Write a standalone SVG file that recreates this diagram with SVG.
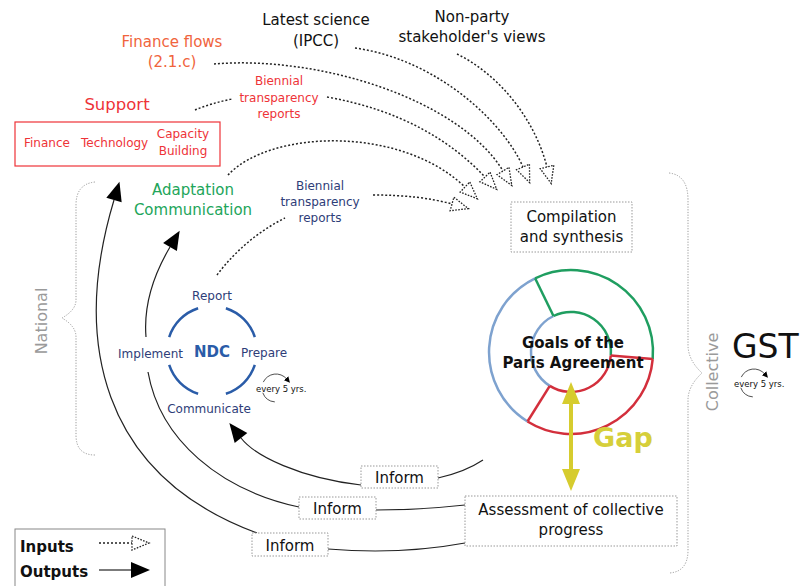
<svg xmlns="http://www.w3.org/2000/svg" width="805" height="586" viewBox="0 0 805 586">
<defs>
<style>
text{font-family:"DejaVu Sans",Verdana,sans-serif}
.in{fill:none;stroke:#222;stroke-width:1.5;stroke-dasharray:2 2}
.out{fill:none;stroke:#222;stroke-width:1.2}
.box{fill:#fff;stroke:#999;stroke-width:1;stroke-dasharray:1.5 1.5}
.brace{fill:none;stroke:#999;stroke-width:1;stroke-dasharray:1.2 1.5}
.navy{fill:#2e3d78}
.red{fill:#ee3338}
.blk{fill:#111}
.c{text-anchor:middle}
.g{stroke:#1f9e60}
.r{stroke:#d32f3c}
.b{stroke:#7ea2cf}
.ring path{fill:none;stroke-width:2.5}
</style>
<marker id="op" viewBox="-2 -2 22 18" refX="0" refY="7" markerWidth="22" markerHeight="18" markerUnits="userSpaceOnUse" orient="auto"><path d="M0,0 L17,7 L0,14 Z" fill="#fff" stroke="#222" stroke-width="1.3" stroke-dasharray="1.6 1.4"/></marker>
<marker id="fl" viewBox="-1 -1 21 18" refX="0" refY="8" markerWidth="21" markerHeight="18" markerUnits="userSpaceOnUse" orient="auto"><path d="M0,0 L19,8 L0,16 Z" fill="#000"/></marker>
<marker id="sm" viewBox="0 0 6 6" refX="1" refY="3" markerWidth="6" markerHeight="6" markerUnits="userSpaceOnUse" orient="auto"><path d="M0,0 L6,3 L0,6 Z" fill="#000"/></marker>
</defs>

<g id="braces">
<path class="brace" d="M95,182 Q76,184 76,205 L76,300 Q76,310 62,318 Q76,326 76,337 L76,435 Q76,455 95,455"/>
<path class="brace" d="M669,173 Q688,175 688,200 L688,345 Q688,360 702,373 Q688,386 688,400 L688,550 Q688,572 669,573"/>
<text x="47" y="321" transform="rotate(-90 47 321)" class="c" font-size="16" fill="#9a9a9a">National</text>
<text x="718" y="372" transform="rotate(-90 718 372)" class="c" font-size="16" fill="#9a9a9a">Collective</text>
</g>

<g id="connectors">
<path class="in" d="M355,48 C440,60 505,125 523,167" marker-end="url(#op)"/>
<path class="in" d="M457,54 C500,75 535,120 547,167" marker-end="url(#op)"/>
<path class="in" d="M214,64 C320,55 460,100 503,171" marker-end="url(#op)"/>
<path class="in" d="M195,110 Q212,103 232,99"/>
<path class="in" d="M327,97 C400,110 450,140 485,177" marker-end="url(#op)"/>
<path class="in" d="M228,175 C270,130 400,125 465,187" marker-end="url(#op)"/>
<path class="in" d="M217,275 Q245,238 285,218"/>
<path class="in" d="M373,195 Q420,195 452,204" marker-end="url(#op)"/>
<path class="out" d="M257,533 C100,475 72,340 114,200" marker-end="url(#fl)"/>
<path class="out" d="M299,507 C220,490 160,440 148,372"/>
<path class="out" d="M146,337 C143,300 157,269 170,247" marker-end="url(#fl)"/>
<path class="out" d="M361,485 C300,478 255,456 241,438" marker-end="url(#fl)"/>
<path class="out" d="M438,478 Q465,472 483,460"/>
<path class="out" d="M376,510 Q420,510 465,505"/>
<path class="out" d="M328,549 Q400,555 465,543"/>
</g>

<g id="latest-science">
<text x="316" y="25" class="c blk" font-size="15">Latest science</text>
<text x="316" y="46" class="c blk" font-size="15">(IPCC)</text>
</g>
<g id="non-party">
<text x="472" y="22" class="c blk" font-size="15">Non-party</text>
<text x="472" y="42" class="c blk" font-size="15">stakeholder's views</text>
</g>
<g id="finance-flows">
<text x="172" y="47" class="c" font-size="15" fill="#f0643c">Finance flows</text>
<text x="172" y="67" class="c" font-size="15" fill="#f0643c">(2.1.c)</text>
</g>
<g id="biennial-red">
<text x="279" y="85" class="c red" font-size="12">Biennial</text>
<text x="279" y="102" class="c red" font-size="12">transparency</text>
<text x="279" y="118" class="c red" font-size="12">reports</text>
</g>
<g id="support">
<text x="117" y="110" class="c red" font-size="16.5">Support</text>
<rect x="15" y="122" width="205" height="44" fill="none" stroke="#ee3338" stroke-width="1.2"/>
<text x="24" y="147" class="red" font-size="12">Finance</text>
<text x="81" y="147" class="red" font-size="12">Technology</text>
<text x="183" y="138" class="c red" font-size="12">Capacity</text>
<text x="183" y="155" class="c red" font-size="12">Building</text>
</g>
<g id="adaptation">
<text x="193" y="195" class="c" font-size="15" fill="#22a55a">Adaptation</text>
<text x="193" y="215" class="c" font-size="15" fill="#22a55a">Communication</text>
</g>
<g id="biennial-navy">
<text x="320" y="190" class="c navy" font-size="12">Biennial</text>
<text x="320" y="206" class="c navy" font-size="12">transparency</text>
<text x="320" y="222" class="c navy" font-size="12">reports</text>
</g>
<g id="compilation">
<rect class="box" x="511" y="202" width="121" height="50"/>
<text x="571.5" y="222" class="c blk" font-size="15">Compilation</text>
<text x="571.5" y="242" class="c blk" font-size="15">and synthesis</text>
</g>

<g id="ndc">
<g fill="none" stroke="#2a5ca8" stroke-width="2.5">
<path d="M169.2,337.1 A45,45 0 0 1 198.1,308.2"/>
<path d="M225.9,308.2 A45,45 0 0 1 254.8,337.1"/>
<path d="M254.8,364.9 A45,45 0 0 1 225.9,393.8"/>
<path d="M198.1,393.8 A45,45 0 0 1 169.2,364.9"/>
</g>
<text x="212" y="357" class="c" font-size="15" font-weight="bold" fill="#2a5ca8">NDC</text>
<text x="212" y="300" class="c navy" font-size="12">Report</text>
<text x="183" y="358" class="navy" font-size="12" text-anchor="end">Implement</text>
<text x="241" y="357" class="navy" font-size="12">Prepare</text>
<text x="209" y="413" class="c navy" font-size="12">Communicate</text>
<path d="M263.3,382.1 A14,14 0 0 1 286.7,379" fill="none" stroke="#222" stroke-width="0.8" marker-end="url(#sm)"/>
<path d="M262.8,392.8 A14,14 0 0 0 274.8,401.9" fill="none" stroke="#222" stroke-width="0.8"/>
<text x="256" y="392" font-size="8.5" class="blk">every 5 yrs.</text>
</g>

<g id="goals">
<g class="ring">
<path class="g" d="M535.1,278.3 A82,82 0 0 1 652.7,359.1"/>
<path class="r" d="M652.7,359.1 A82,82 0 0 1 527.5,421.5"/>
<path class="b" d="M527.5,421.5 A82,82 0 0 1 535.1,278.3"/>
<path class="g" d="M553.5,316 A40,40 0 0 1 610.8,355.5"/>
<path class="r" d="M610.8,355.5 A40,40 0 0 1 549.8,385.9"/>
<path class="b" d="M549.8,385.9 A40,40 0 0 1 553.5,316"/>
<path class="g" d="M553.5,316 L535.1,278.3"/>
<path class="r" d="M610.8,355.5 L652.7,359.1"/>
<path class="r" d="M549.8,385.9 L527.5,421.5"/>
</g>
<text x="573" y="348" class="c blk" font-size="15" font-weight="bold">Goals of the</text>
<text x="573" y="368" class="c blk" font-size="15" font-weight="bold">Paris Agreement</text>
</g>

<g id="gap">
<line x1="571" y1="402" x2="571" y2="471" stroke="#d6cc2e" stroke-width="4"/>
<path d="M571,382 L562,404 L580,404 Z" fill="#d6cc2e"/>
<path d="M571,491 L562,469 L580,469 Z" fill="#d6cc2e"/>
<text x="593" y="447" font-size="27" font-weight="bold" fill="#d6cf3a">Gap</text>
</g>

<g id="assessment">
<rect class="box" x="465" y="496" width="212" height="50"/>
<text x="571" y="515" class="c blk" font-size="15">Assessment of collective</text>
<text x="571" y="535" class="c blk" font-size="15">progress</text>
</g>

<g id="inform-1">
<rect class="box" x="361" y="466" width="77" height="22"/>
<text x="399.5" y="483" class="c blk" font-size="15">Inform</text>
</g>
<g id="inform-2">
<rect class="box" x="299" y="497" width="77" height="22"/>
<text x="337.5" y="514" class="c blk" font-size="15">Inform</text>
</g>
<g id="inform-3">
<rect class="box" x="252" y="533" width="76" height="23"/>
<text x="290" y="551" class="c blk" font-size="15">Inform</text>
</g>

<g id="gst">
<text x="732" y="358" font-size="33" class="blk">GST</text>
<path d="M741.3,377.1 A14,14 0 0 1 764.7,374" fill="none" stroke="#222" stroke-width="0.8" marker-end="url(#sm)"/>
<path d="M740.8,387.8 A14,14 0 0 0 752.8,396.9" fill="none" stroke="#222" stroke-width="0.8"/>
<text x="734" y="387" font-size="8.5" class="blk">every 5 yrs.</text>
</g>

<g id="legend">
<rect x="15" y="529" width="150" height="70" fill="#fff" stroke="#888" stroke-width="1"/>
<text x="20" y="552" font-size="15" font-weight="bold" class="blk">Inputs</text>
<text x="20" y="577" font-size="15" font-weight="bold" class="blk">Outputs</text>
<path class="in" d="M99,543 L132,543" marker-end="url(#op)"/>
<path class="out" d="M99,570 L131,570" stroke-width="1.8" marker-end="url(#fl)"/>
</g>
</svg>
